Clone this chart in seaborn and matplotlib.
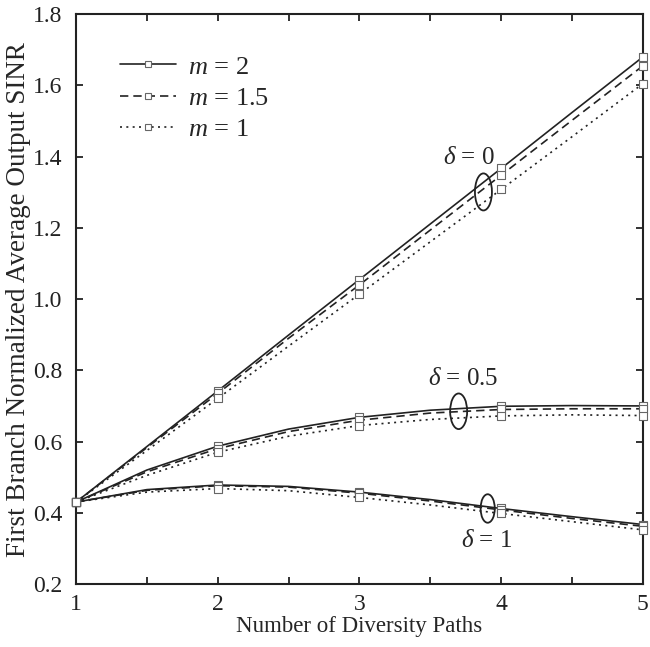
import matplotlib
matplotlib.use("Agg")
import matplotlib.pyplot as plt
from matplotlib.lines import Line2D
from matplotlib.patches import Ellipse
import seaborn as sns
import pandas as pd
import numpy as np

# ---- data ----
paths = [1, 1.5, 2, 2.5, 3, 3.5, 4, 4.5, 5]
m_values = ["2", "1.5", "1"]

d0_m2 = [0.43, 0.586, 0.742, 0.899, 1.055, 1.211, 1.367, 1.524, 1.680]
d0_m15 = [0.43, 0.583, 0.735, 0.890, 1.040, 1.194, 1.348, 1.502, 1.655]
d0_m1 = [0.43, 0.575, 0.721, 0.868, 1.014, 1.161, 1.308, 1.456, 1.605]

d05_m2 = [0.43, 0.520, 0.587, 0.635, 0.668, 0.688, 0.699, 0.701, 0.700]
d05_m15 = [0.43, 0.515, 0.580, 0.628, 0.660, 0.680, 0.690, 0.692, 0.692]
d05_m1 = [0.43, 0.505, 0.570, 0.615, 0.645, 0.662, 0.672, 0.675, 0.673]

d1_m2 = [0.43, 0.465, 0.478, 0.474, 0.458, 0.437, 0.412, 0.389, 0.367]
d1_m15 = [0.43, 0.463, 0.476, 0.472, 0.455, 0.433, 0.408, 0.384, 0.362]
d1_m1 = [0.43, 0.458, 0.468, 0.462, 0.443, 0.422, 0.398, 0.375, 0.352]

x_ticks = [1, 2, 3, 4, 5]
y_ticks = [0.2, 0.4, 0.6, 0.8, 1.0, 1.2, 1.4, 1.6, 1.8]

series = {
    ("0", "2"): d0_m2, ("0", "1.5"): d0_m15, ("0", "1"): d0_m1,
    ("0.5", "2"): d05_m2, ("0.5", "1.5"): d05_m15, ("0.5", "1"): d05_m1,
    ("1", "2"): d1_m2, ("1", "1.5"): d1_m15, ("1", "1"): d1_m1,
}
rows = []
for (d, m), vals in series.items():
    for x, v in zip(paths, vals):
        rows.append({"paths": x, "sinr": v, "delta": d, "m": m})
df = pd.DataFrame(rows)

# ---- style ----
sns.set_theme(style="white")
plt.rcParams["font.family"] = ["Liberation Serif", "DejaVu Serif"]
plt.rcParams["mathtext.fontset"] = "custom"
plt.rcParams["mathtext.rm"] = "Liberation Serif"
plt.rcParams["mathtext.it"] = "Liberation Serif:italic"

line_color = "#222222"
ls_map = {"2": "-", "1.5": (0, (5, 3)), "1": (0, (1.2, 2.6))}

fig = plt.figure(figsize=(6.5, 6.47), dpi=100)
ax = fig.add_axes([0.117, 0.0974, 0.872, 0.8806])

for (d, m), vals in series.items():
    sub = df[(df.delta == d) & (df.m == m)]
    sns.lineplot(data=sub, x="paths", y="sinr", ax=ax, color=line_color,
                 linewidth=1.2, linestyle=ls_map[m], legend=False,
                 estimator=None, sort=True)

marks = df[df.paths.isin(x_ticks)]
sns.scatterplot(data=marks, x="paths", y="sinr", ax=ax, marker="s", s=28,
                facecolor="white", edgecolor="#666666", linewidth=0.8,
                legend=False, zorder=5, clip_on=False)

# ellipses and annotations
for (cx, cy, w, h) in [(3.875, 1.301, 0.12, 0.104), (3.70, 0.685, 0.12, 0.10),
                       (3.905, 0.412, 0.10, 0.08)]:
    ax.add_patch(Ellipse((cx, cy), w, h, fill=False, edgecolor=line_color,
                         linewidth=1.3, zorder=6))
ax.text(3.77, 1.395, r"$\delta$ = 0", fontsize=18, ha="center", va="center")
ax.text(3.73, 0.777, r"$\delta$ = 0.5", fontsize=18, ha="center", va="center")
ax.text(3.90, 0.322, r"$\delta$ = 1", fontsize=18, ha="center", va="center")

# axes
ax.set_xlim(1, 5)
ax.set_ylim(0.2, 1.8)
ax.set_xticks(x_ticks)
ax.set_xticks([1.5, 2.5, 3.5, 4.5], minor=True)
ax.set_yticks(y_ticks)
ax.set_yticklabels([f"{v:.1f}" for v in y_ticks])
ax.tick_params(which="both", direction="in", top=True, right=True,
               length=5, width=1.3, labelsize=17, colors="#222222",
               bottom=True, left=True)
ax.tick_params(axis="x", which="both", pad=7)
ax.tick_params(axis="y", which="both", pad=10)
for sp in ax.spines.values():
    sp.set_linewidth(1.5)
    sp.set_color("#222222")
ax.set_xlabel("Number of Diversity Paths", fontsize=16.5, labelpad=1)
ax.set_ylabel("First Branch Normalized Average Output SINR", fontsize=19.5,
              labelpad=1)

handles = [Line2D([0], [0], color=line_color, linewidth=1.2, linestyle=ls_map[m],
                  marker="s", markersize=5, markerfacecolor="white",
                  markeredgecolor="#666666", markeredgewidth=0.8)
           for m in m_values]
labels = [rf"$m$ = {m}" for m in m_values]
ax.legend(handles, labels, loc="upper left", bbox_to_anchor=(0.035, 0.97),
          frameon=False, fontsize=19, handlelength=2.15, handletextpad=0.45,
          labelspacing=0.3)

fig.savefig("out.png", dpi=100)
